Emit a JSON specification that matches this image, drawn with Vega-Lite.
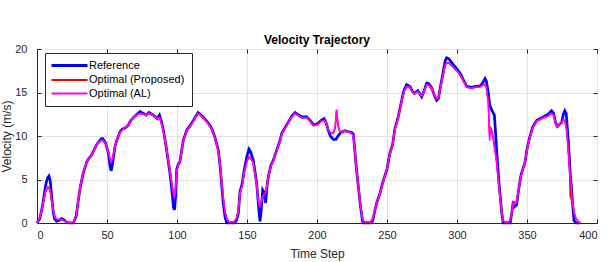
{
 "$schema": "https://vega.github.io/schema/vega-lite/v6.json",
 "width": 560, "height": 174,
 "autosize": {"type": "none"},
 "padding": {"left": 37, "top": 49, "right": 13, "bottom": 39},
 "background": "white",
 "title": {"text": "Velocity Trajectory", "font": "Liberation Sans", "fontSize": 12, "fontWeight": "bold", "color": "#000000", "anchor": "middle", "offset": -4},
 "config": {
  "view": {"stroke": "#262626", "strokeWidth": 1},
  "axis": {"labelFont": "Liberation Sans", "labelFontSize": 11, "labelColor": "#262626", "titleFont": "Liberation Sans", "titleFontSize": 12, "titleFontWeight": "normal", "titleColor": "#262626", "domainColor": "#262626", "gridColor": "#e2e2e2", "ticks": true, "tickSize": -4, "tickColor": "#262626"}
 },
 "resolve": {"axis": {"x": "independent", "y": "independent"}},
 "datasets": {
  "ref": [
   {"t":0,"v":0},{"t":2,"v":0.5},{"t":4,"v":2.0},{"t":6,"v":4.2},{"t":7.5,"v":5.2},{"t":8.5,"v":5.4},{"t":9.5,"v":4.8},{"t":10.5,"v":3.0},{"t":11.5,"v":1.4},{"t":12.5,"v":0.5},{"t":14,"v":0.2},{"t":16,"v":0.3},{"t":17.5,"v":0.5},{"t":19,"v":0.4},{"t":21,"v":0.1},{"t":23,"v":0},{"t":26,"v":0},{"t":28,"v":0.8},{"t":29.5,"v":2.6},{"t":31,"v":4.2},{"t":33,"v":5.7},{"t":35.5,"v":7.0},{"t":37,"v":7.4},{"t":39,"v":7.8},{"t":41,"v":8.5},{"t":42.6,"v":9.0},{"t":44.5,"v":9.4},{"t":46,"v":9.7},{"t":47,"v":9.7},{"t":49,"v":9.2},{"t":51,"v":8.0},{"t":52.2,"v":6.5},{"t":53,"v":6.0},{"t":54,"v":6.8},{"t":55.7,"v":8.8},{"t":57,"v":9.5},{"t":59.3,"v":10.5},{"t":61,"v":10.8},{"t":63,"v":10.9},{"t":65,"v":11.2},{"t":67,"v":11.8},{"t":70,"v":12.3},{"t":73.6,"v":12.8},{"t":76,"v":12.6},{"t":78,"v":12.4},{"t":80,"v":12.7},{"t":82,"v":12.5},{"t":84,"v":12.3},{"t":86,"v":12.0},{"t":87.5,"v":12.4},{"t":89,"v":11.6},{"t":90.5,"v":10.5},{"t":92.6,"v":8.4},{"t":95,"v":5.7},{"t":96.5,"v":3.5},{"t":97.5,"v":1.8},{"t":98.2,"v":1.5},{"t":99,"v":3.0},{"t":99.8,"v":6.2},{"t":101,"v":6.8},{"t":102,"v":7.0},{"t":104.5,"v":9.5},{"t":107,"v":10.7},{"t":109,"v":11.1},{"t":111.7,"v":11.8},{"t":115,"v":12.7},{"t":118,"v":12.3},{"t":122.4,"v":11.5},{"t":125,"v":10.8},{"t":127,"v":9.9},{"t":129.5,"v":8.4},{"t":131,"v":6.2},{"t":132,"v":4.2},{"t":133,"v":2.3},{"t":134.3,"v":0.7},{"t":135.5,"v":0},{"t":141,"v":0},{"t":142.5,"v":0.3},{"t":143.8,"v":1.1},{"t":145,"v":3.6},{"t":146.5,"v":4.5},{"t":148,"v":6.1},{"t":150,"v":7.7},{"t":151.4,"v":8.5},{"t":152.5,"v":8.2},{"t":154.5,"v":7.2},{"t":156.9,"v":4.6},{"t":158.3,"v":1.8},{"t":159.3,"v":0.2},{"t":160.2,"v":1.5},{"t":161.2,"v":3.8},{"t":162.3,"v":3.5},{"t":163.3,"v":2.3},{"t":164.5,"v":4.5},{"t":165.2,"v":5.3},{"t":167,"v":6.6},{"t":168.8,"v":7.2},{"t":170,"v":7.8},{"t":171.5,"v":8.5},{"t":173.6,"v":9.5},{"t":174.8,"v":10.3},{"t":177,"v":10.9},{"t":179.5,"v":11.6},{"t":182,"v":12.3},{"t":184.3,"v":12.7},{"t":186,"v":12.5},{"t":189,"v":12.2},{"t":192.6,"v":12.2},{"t":195,"v":11.8},{"t":197.4,"v":11.3},{"t":199,"v":11.3},{"t":201,"v":11.5},{"t":203,"v":11.8},{"t":205,"v":12.0},{"t":206.5,"v":11.5},{"t":208,"v":10.7},{"t":209.5,"v":10.0},{"t":211.7,"v":9.6},{"t":213.5,"v":9.6},{"t":215,"v":10.0},{"t":217,"v":10.4},{"t":220,"v":10.6},{"t":222,"v":10.5},{"t":224.8,"v":10.4},{"t":226,"v":10.2},{"t":227,"v":8.4},{"t":228,"v":6.5},{"t":229.5,"v":4.2},{"t":231,"v":2.0},{"t":232.4,"v":0.35},{"t":233,"v":0},{"t":239,"v":0},{"t":240,"v":0.4},{"t":241.4,"v":1.5},{"t":243,"v":2.5},{"t":245,"v":3.4},{"t":246.5,"v":4.4},{"t":248.6,"v":5.5},{"t":250,"v":6.2},{"t":252,"v":8.0},{"t":253,"v":8.5},{"t":254,"v":9.0},{"t":255.7,"v":10.9},{"t":258,"v":12.2},{"t":260.5,"v":14.1},{"t":262,"v":15.2},{"t":264,"v":15.9},{"t":266.4,"v":15.7},{"t":268,"v":15.2},{"t":269.5,"v":14.9},{"t":272,"v":15.2},{"t":274.8,"v":14.5},{"t":276.5,"v":15.2},{"t":278.4,"v":16.1},{"t":280,"v":16.0},{"t":282,"v":15.5},{"t":284,"v":14.6},{"t":285.5,"v":14.1},{"t":286.7,"v":14.3},{"t":288,"v":15.5},{"t":290.2,"v":17.4},{"t":291.5,"v":18.6},{"t":292.6,"v":19.0},{"t":294,"v":18.9},{"t":297.4,"v":18.2},{"t":301,"v":17.5},{"t":303,"v":17.0},{"t":305,"v":16.3},{"t":307,"v":15.7},{"t":310.5,"v":15.6},{"t":313,"v":15.7},{"t":315.2,"v":15.7},{"t":317,"v":15.8},{"t":319,"v":16.3},{"t":320,"v":16.6},{"t":321,"v":16.3},{"t":322.4,"v":14.9},{"t":323.5,"v":13.5},{"t":324.8,"v":13.0},{"t":326,"v":12.6},{"t":326.7,"v":12.4},{"t":327.5,"v":10.5},{"t":328.3,"v":8.4},{"t":330,"v":4.6},{"t":332,"v":1.1},{"t":333,"v":0},{"t":338,"v":0},{"t":339,"v":1.0},{"t":340.2,"v":2.5},{"t":341.2,"v":1.9},{"t":342.6,"v":2.1},{"t":344,"v":3.8},{"t":345.7,"v":5.5},{"t":348.6,"v":7.0},{"t":350,"v":8.5},{"t":352,"v":9.9},{"t":354,"v":11.0},{"t":357,"v":11.8},{"t":361.7,"v":12.2},{"t":365,"v":12.5},{"t":367.6,"v":12.9},{"t":369,"v":12.6},{"t":370.5,"v":11.5},{"t":371.7,"v":11.1},{"t":373,"v":11.3},{"t":374.8,"v":11.6},{"t":376,"v":12.5},{"t":377,"v":12.9},{"t":378,"v":12.6},{"t":379.5,"v":9.5},{"t":381,"v":5.5},{"t":381.9,"v":3.8},{"t":383,"v":1.3},{"t":383.6,"v":0.3},{"t":385,"v":0},{"t":388,"v":0}
  ],
  "prop": [
   {"t":0,"v":0},{"t":2,"v":0.6},{"t":4,"v":2.0},{"t":6,"v":3.5},{"t":7.5,"v":4.1},{"t":8.5,"v":4.1},{"t":9.5,"v":3.6},{"t":10.5,"v":2.6},{"t":11.5,"v":1.5},{"t":12.5,"v":0.8},{"t":14,"v":0.4},{"t":16,"v":0.4},{"t":17.5,"v":0.4},{"t":19,"v":0.3},{"t":21,"v":0.1},{"t":23,"v":0.05},{"t":26,"v":0.05},{"t":28,"v":0.9},{"t":29.5,"v":2.6},{"t":31,"v":4.3},{"t":33,"v":5.8},{"t":35.5,"v":7.0},{"t":37,"v":7.4},{"t":39,"v":7.8},{"t":41,"v":8.5},{"t":42.6,"v":9.0},{"t":44.5,"v":9.3},{"t":46,"v":9.5},{"t":47,"v":9.5},{"t":49,"v":9.1},{"t":51,"v":8.2},{"t":52.2,"v":7.3},{"t":53,"v":7.0},{"t":54,"v":7.4},{"t":55.7,"v":8.8},{"t":57,"v":9.5},{"t":59.3,"v":10.4},{"t":61,"v":10.7},{"t":63,"v":10.9},{"t":65,"v":11.2},{"t":67,"v":11.8},{"t":70,"v":12.3},{"t":73.6,"v":12.6},{"t":76,"v":12.5},{"t":78,"v":12.4},{"t":80,"v":12.6},{"t":82,"v":12.5},{"t":84,"v":12.3},{"t":86,"v":12.0},{"t":87.5,"v":12.1},{"t":89,"v":11.4},{"t":90.5,"v":10.4},{"t":92.6,"v":8.4},{"t":95,"v":6.0},{"t":96.5,"v":4.3},{"t":97.5,"v":3.3},{"t":98.2,"v":3.0},{"t":99,"v":3.8},{"t":99.8,"v":6.0},{"t":101,"v":6.7},{"t":102,"v":7.0},{"t":104.5,"v":9.4},{"t":107,"v":10.6},{"t":109,"v":11.0},{"t":111.7,"v":11.7},{"t":115,"v":12.6},{"t":118,"v":12.2},{"t":122.4,"v":11.4},{"t":125,"v":10.7},{"t":127,"v":9.8},{"t":129.5,"v":8.3},{"t":131,"v":6.3},{"t":132,"v":4.5},{"t":133,"v":2.9},{"t":134.3,"v":1.3},{"t":135.5,"v":0.5},{"t":137,"v":0.15},{"t":140,"v":0.1},{"t":141,"v":0.2},{"t":142.5,"v":0.5},{"t":143.8,"v":1.4},{"t":145,"v":3.4},{"t":146.5,"v":4.3},{"t":148,"v":5.8},{"t":150,"v":7.1},{"t":151.4,"v":7.6},{"t":152.5,"v":7.5},{"t":154.5,"v":6.9},{"t":156.9,"v":4.4},{"t":158.3,"v":2.2},{"t":159.3,"v":1.9},{"t":160.2,"v":2.4},{"t":161.2,"v":3.0},{"t":162.3,"v":3.3},{"t":163.3,"v":3.5},{"t":164.5,"v":4.5},{"t":165.2,"v":5.2},{"t":167,"v":6.5},{"t":168.8,"v":7.1},{"t":170,"v":7.8},{"t":171.5,"v":8.4},{"t":173.6,"v":9.4},{"t":174.8,"v":10.2},{"t":177,"v":10.8},{"t":179.5,"v":11.5},{"t":182,"v":12.2},{"t":184.3,"v":12.6},{"t":186,"v":12.4},{"t":189,"v":12.1},{"t":192.6,"v":12.1},{"t":195,"v":11.7},{"t":197.4,"v":11.2},{"t":199,"v":11.2},{"t":201,"v":11.4},{"t":203,"v":11.7},{"t":205,"v":11.8},{"t":206.5,"v":11.5},{"t":208,"v":10.8},{"t":209.5,"v":10.4},{"t":211.7,"v":10.3},{"t":213,"v":11.0},{"t":214,"v":13.0},{"t":215,"v":11.2},{"t":216.4,"v":10.5},{"t":218,"v":10.5},{"t":220,"v":10.6},{"t":222,"v":10.5},{"t":224.8,"v":10.3},{"t":226,"v":10.0},{"t":227,"v":8.4},{"t":228,"v":6.5},{"t":229.5,"v":4.3},{"t":231,"v":2.1},{"t":232.4,"v":0.6},{"t":233.5,"v":0.15},{"t":238,"v":0.1},{"t":239,"v":0.3},{"t":240,"v":0.6},{"t":241.4,"v":1.5},{"t":243,"v":2.5},{"t":245,"v":3.4},{"t":246.5,"v":4.3},{"t":248.6,"v":5.4},{"t":250,"v":6.2},{"t":252,"v":7.9},{"t":253,"v":8.4},{"t":254,"v":9.0},{"t":255.7,"v":10.8},{"t":258,"v":12.1},{"t":260.5,"v":14.0},{"t":262,"v":15.0},{"t":264,"v":15.7},{"t":266.4,"v":15.6},{"t":268,"v":15.1},{"t":269.5,"v":14.9},{"t":272,"v":15.1},{"t":274.8,"v":14.6},{"t":276.5,"v":15.1},{"t":278.4,"v":15.9},{"t":280,"v":15.8},{"t":282,"v":15.4},{"t":284,"v":14.7},{"t":285.5,"v":14.3},{"t":286.7,"v":14.4},{"t":288,"v":15.4},{"t":290.2,"v":17.1},{"t":291.5,"v":18.1},{"t":292.6,"v":18.4},{"t":294,"v":18.4},{"t":297.4,"v":17.9},{"t":301,"v":17.3},{"t":303,"v":16.8},{"t":305,"v":16.2},{"t":307,"v":15.6},{"t":310.5,"v":15.5},{"t":313,"v":15.6},{"t":315.2,"v":15.6},{"t":317,"v":15.7},{"t":319,"v":15.9},{"t":320,"v":15.9},{"t":321,"v":15.6},{"t":322.4,"v":13.8},{"t":323.3,"v":10.0},{"t":324,"v":10.9},{"t":324.8,"v":10.6},{"t":326,"v":9.6},{"t":327.5,"v":8.0},{"t":328.3,"v":7.0},{"t":330,"v":4.2},{"t":332,"v":1.2},{"t":333,"v":0.3},{"t":334,"v":0.1},{"t":337,"v":0.1},{"t":338,"v":0.4},{"t":339,"v":1.1},{"t":340.2,"v":2.4},{"t":341.2,"v":2.2},{"t":342.6,"v":2.4},{"t":344,"v":3.8},{"t":345.7,"v":5.4},{"t":348.6,"v":7.0},{"t":350,"v":8.4},{"t":352,"v":9.8},{"t":354,"v":10.9},{"t":357,"v":11.7},{"t":361.7,"v":12.1},{"t":365,"v":12.3},{"t":367.6,"v":12.6},{"t":369,"v":12.4},{"t":370.5,"v":11.4},{"t":371.7,"v":11.1},{"t":373,"v":11.3},{"t":374.8,"v":11.6},{"t":376,"v":11.9},{"t":377,"v":11.8},{"t":378.3,"v":10.7},{"t":380.3,"v":7.2},{"t":380.9,"v":3.1},{"t":382,"v":2.6},{"t":383.6,"v":1.2},{"t":385,"v":0.5},{"t":386.7,"v":0.15},{"t":388,"v":0}
  ],
  "al": [
   {"t":0,"v":0},{"t":2,"v":0.6},{"t":4,"v":2.0},{"t":6,"v":3.5},{"t":7.5,"v":4.1},{"t":8.5,"v":4.1},{"t":9.5,"v":3.6},{"t":10.5,"v":2.6},{"t":11.5,"v":1.5},{"t":12.5,"v":0.8},{"t":14,"v":0.4},{"t":16,"v":0.4},{"t":17.5,"v":0.4},{"t":19,"v":0.3},{"t":21,"v":0.1},{"t":23,"v":0.05},{"t":26,"v":0.05},{"t":28,"v":0.9},{"t":29.5,"v":2.6},{"t":31,"v":4.3},{"t":33,"v":5.8},{"t":35.5,"v":7.0},{"t":37,"v":7.4},{"t":39,"v":7.8},{"t":41,"v":8.5},{"t":42.6,"v":9.0},{"t":44.5,"v":9.3},{"t":46,"v":9.5},{"t":47,"v":9.5},{"t":49,"v":9.1},{"t":51,"v":8.2},{"t":52.2,"v":7.3},{"t":53,"v":7.0},{"t":54,"v":7.4},{"t":55.7,"v":8.8},{"t":57,"v":9.5},{"t":59.3,"v":10.4},{"t":61,"v":10.7},{"t":63,"v":10.9},{"t":65,"v":11.2},{"t":67,"v":11.8},{"t":70,"v":12.3},{"t":73.6,"v":12.6},{"t":76,"v":12.5},{"t":78,"v":12.4},{"t":80,"v":12.6},{"t":82,"v":12.5},{"t":84,"v":12.3},{"t":86,"v":12.0},{"t":87.5,"v":12.1},{"t":89,"v":11.4},{"t":90.5,"v":10.4},{"t":92.6,"v":8.4},{"t":95,"v":6.0},{"t":96.5,"v":4.3},{"t":97.5,"v":3.3},{"t":98.2,"v":3.0},{"t":99,"v":3.8},{"t":99.8,"v":6.0},{"t":101,"v":6.7},{"t":102,"v":7.0},{"t":104.5,"v":9.4},{"t":107,"v":10.6},{"t":109,"v":11.0},{"t":111.7,"v":11.7},{"t":115,"v":12.6},{"t":118,"v":12.2},{"t":122.4,"v":11.4},{"t":125,"v":10.7},{"t":127,"v":9.8},{"t":129.5,"v":8.3},{"t":131,"v":6.3},{"t":132,"v":4.5},{"t":133,"v":2.9},{"t":134.3,"v":1.3},{"t":135.5,"v":0.5},{"t":137,"v":0.15},{"t":140,"v":0.1},{"t":141,"v":0.2},{"t":142.5,"v":0.5},{"t":143.8,"v":1.4},{"t":145,"v":3.4},{"t":146.5,"v":4.3},{"t":148,"v":5.8},{"t":150,"v":7.1},{"t":151.4,"v":7.6},{"t":152.5,"v":7.5},{"t":154.5,"v":6.9},{"t":156.9,"v":4.4},{"t":158.3,"v":2.2},{"t":159.3,"v":1.9},{"t":160.2,"v":2.4},{"t":161.2,"v":3.0},{"t":162.3,"v":3.3},{"t":163.3,"v":3.5},{"t":164.5,"v":4.5},{"t":165.2,"v":5.2},{"t":167,"v":6.5},{"t":168.8,"v":7.1},{"t":170,"v":7.8},{"t":171.5,"v":8.4},{"t":173.6,"v":9.4},{"t":174.8,"v":10.2},{"t":177,"v":10.8},{"t":179.5,"v":11.5},{"t":182,"v":12.2},{"t":184.3,"v":12.6},{"t":186,"v":12.4},{"t":189,"v":12.1},{"t":192.6,"v":12.1},{"t":195,"v":11.7},{"t":197.4,"v":11.2},{"t":199,"v":11.2},{"t":201,"v":11.4},{"t":203,"v":11.7},{"t":205,"v":11.8},{"t":206.5,"v":11.5},{"t":208,"v":10.8},{"t":209.5,"v":10.4},{"t":211.7,"v":10.3},{"t":213,"v":11.0},{"t":214,"v":13.0},{"t":215,"v":11.2},{"t":216.4,"v":10.5},{"t":218,"v":10.5},{"t":220,"v":10.6},{"t":222,"v":10.5},{"t":224.8,"v":10.3},{"t":226,"v":10.0},{"t":227,"v":8.4},{"t":228,"v":6.5},{"t":229.5,"v":4.3},{"t":231,"v":2.1},{"t":232.4,"v":0.6},{"t":233.5,"v":0.15},{"t":238,"v":0.1},{"t":239,"v":0.3},{"t":240,"v":0.6},{"t":241.4,"v":1.5},{"t":243,"v":2.5},{"t":245,"v":3.4},{"t":246.5,"v":4.3},{"t":248.6,"v":5.4},{"t":250,"v":6.2},{"t":252,"v":7.9},{"t":253,"v":8.4},{"t":254,"v":9.0},{"t":255.7,"v":10.8},{"t":258,"v":12.1},{"t":260.5,"v":14.0},{"t":262,"v":15.0},{"t":264,"v":15.7},{"t":266.4,"v":15.6},{"t":268,"v":15.1},{"t":269.5,"v":14.9},{"t":272,"v":15.1},{"t":274.8,"v":14.6},{"t":276.5,"v":15.1},{"t":278.4,"v":15.9},{"t":280,"v":15.8},{"t":282,"v":15.4},{"t":284,"v":14.7},{"t":285.5,"v":14.3},{"t":286.7,"v":14.4},{"t":288,"v":15.4},{"t":290.2,"v":17.1},{"t":291.5,"v":18.1},{"t":292.6,"v":18.4},{"t":294,"v":18.4},{"t":297.4,"v":17.9},{"t":301,"v":17.3},{"t":303,"v":16.8},{"t":305,"v":16.2},{"t":307,"v":15.6},{"t":310.5,"v":15.5},{"t":313,"v":15.6},{"t":315.2,"v":15.6},{"t":317,"v":15.7},{"t":319,"v":15.9},{"t":320,"v":15.9},{"t":321,"v":15.6},{"t":322.4,"v":13.8},{"t":323.3,"v":9.5},{"t":324,"v":11.0},{"t":324.8,"v":10.6},{"t":326,"v":9.6},{"t":327.5,"v":8.0},{"t":328.3,"v":7.0},{"t":330,"v":4.2},{"t":332,"v":1.2},{"t":333,"v":0.3},{"t":334,"v":0.1},{"t":337,"v":0.1},{"t":338,"v":0.4},{"t":339,"v":1.1},{"t":340.2,"v":2.4},{"t":341.2,"v":2.2},{"t":342.6,"v":2.4},{"t":344,"v":3.8},{"t":345.7,"v":5.4},{"t":348.6,"v":7.0},{"t":350,"v":8.4},{"t":352,"v":9.8},{"t":354,"v":10.9},{"t":357,"v":11.7},{"t":361.7,"v":12.1},{"t":365,"v":12.3},{"t":367.6,"v":12.6},{"t":369,"v":12.4},{"t":370.5,"v":11.4},{"t":371.7,"v":11.1},{"t":373,"v":11.3},{"t":374.8,"v":11.6},{"t":376,"v":11.9},{"t":377,"v":11.8},{"t":378.3,"v":10.7},{"t":380.2,"v":6.9},{"t":382,"v":3.2},{"t":383.6,"v":1.3},{"t":385,"v":0.5},{"t":386.7,"v":0.15},{"t":388,"v":0}
  ]
 },
 "layer": [
  {
   "data": {"name": "ref"},
   "mark": {"type": "line", "opacity": 0},
   "encoding": {
    "x": {"field": "t", "type": "quantitative", "scale": {"domain": [0, 400], "nice": false}, "axis": {"orient": "top", "title": null, "labels": false, "grid": false, "domain": false, "values": [0,50,100,150,200,250,300,350,400]}},
    "y": {"field": "v", "type": "quantitative", "scale": {"domain": [0, 20], "nice": false}, "axis": {"orient": "right", "title": null, "labels": false, "grid": false, "domain": false, "values": [0,5,10,15,20]}}
   }
  },
  {
   "data": {"name": "ref"},
   "mark": {"type": "line", "strokeWidth": 2.7},
   "encoding": {
    "x": {"field": "t", "type": "quantitative", "scale": {"domain": [0, 400], "nice": false}, "axis": {"title": "Time Step", "values": [0,50,100,150,200,250,300,350,400], "grid": true, "labelPadding": 10, "titlePadding": 8}},
    "y": {"field": "v", "type": "quantitative", "scale": {"domain": [0, 20], "nice": false}, "axis": {"title": "Velocity (m/s)", "values": [0,5,10,15,20], "grid": true, "labelPadding": 14, "titlePadding": 1}},
    "color": {"datum": "Reference", "type": "nominal", "scale": {"domain": ["Reference", "Optimal (Proposed)", "Optimal (AL)"], "range": ["#0000ff", "#ff0000", "#ff00ff"]},
     "legend": {"orient": "none", "legendX": 8, "legendY": 4, "title": null, "symbolType": "M-1,0H5", "symbolSize": 144, "symbolStrokeWidth": 2.2, "labelFont": "Liberation Sans", "labelFontSize": 11, "labelColor": "#000000", "padding": 7, "rowPadding": 1.5, "strokeColor": "#262626", "fillColor": "white", "labelOffset": 26,
      "encode": {"symbols": {"update": {"strokeWidth": {"signal": "datum.value === 'Reference' ? 2.8 : 2"}}}}}}
   }
  },
  {
   "data": {"name": "prop"},
   "mark": {"type": "line", "strokeWidth": 1.6},
   "encoding": {
    "x": {"field": "t", "type": "quantitative", "axis": null},
    "y": {"field": "v", "type": "quantitative", "axis": null},
    "color": {"datum": "Optimal (Proposed)", "type": "nominal"}
   }
  },
  {
   "data": {"name": "al"},
   "mark": {"type": "line", "strokeWidth": 1.6},
   "encoding": {
    "x": {"field": "t", "type": "quantitative", "axis": null},
    "y": {"field": "v", "type": "quantitative", "axis": null},
    "color": {"datum": "Optimal (AL)", "type": "nominal"}
   }
  }
 ]
}
